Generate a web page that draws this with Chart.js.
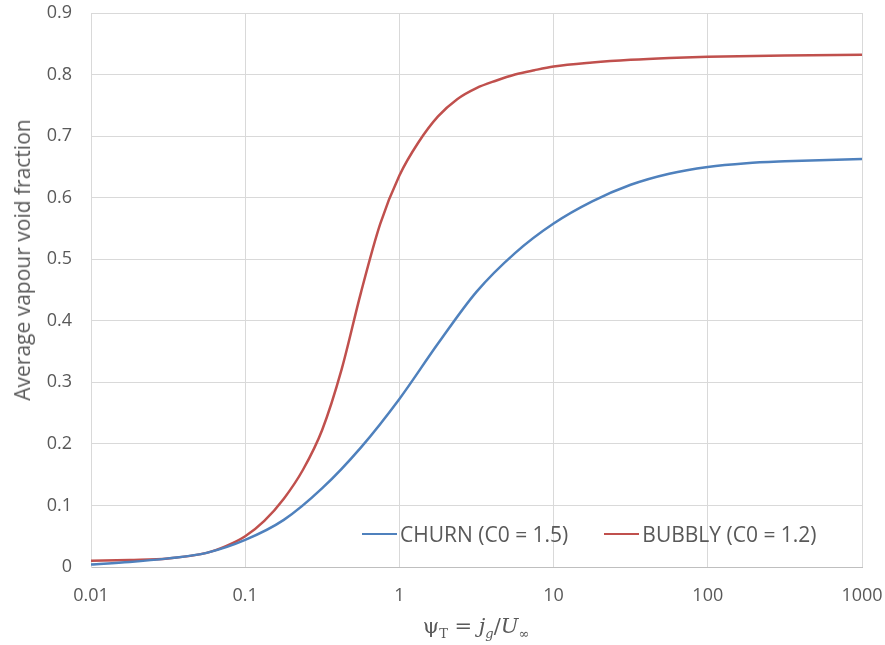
<!DOCTYPE html>
<html>
<head>
<meta charset="utf-8">
<script src="https://cdn.jsdelivr.net/npm/chart.js@4.4.1/dist/chart.umd.min.js"></script>
<style>
  html, body { margin: 0; padding: 0; background: #fff; }
  #wrap { position: relative; width: 885px; height: 645px; }
  #legend {
    position: absolute; left: 362px; top: 520px; line-height: 28px;
    font: 21px "Open Sans", sans-serif; color: #595959;
    display: flex; align-items: center; white-space: nowrap;
  }
  #legend .item { display: flex; align-items: center; }
  #legend .sw { width: 35px; height: 0; border-top: 2.5px solid; margin-right: 3px; }
  #ytitle {
    position: absolute; left: 22px; top: 260px;
    transform: translate(-50%, -50%) rotate(-90deg);
    font: 21px "Open Sans", sans-serif; color: #595959; white-space: nowrap;
  }
  #xtitle {
    position: absolute; left: 476px; top: 614px; transform: translateX(-50%);
    font: 21px "DejaVu Serif", serif; color: #595959; white-space: nowrap;
  }
  #xtitle sub { font-size: 13px; }
</style>
</head>
<body>
<div id="wrap">
  <canvas id="chartVoid" width="885" height="645"></canvas>
  <div id="legend"></div>
  <div id="ytitle">Average vapour void fraction</div>
  <div id="xtitle">ψ<sub>T</sub> = <i>j<sub>g</sub></i>/<i>U</i><sub>∞</sub></div>
</div>
<script>
// ── data ──────────────────────────────────────────────────
// churn regime (C0 = 1.5)
const psiChurn = [0.01, 0.0178, 0.0316, 0.0562, 0.1, 0.178, 0.316, 0.562, 1, 1.78,
                  3.16, 5.62, 10, 17.8, 31.6, 56.2, 100, 178, 316, 1000];
const churn    = [0.004, 0.008, 0.014, 0.023, 0.044, 0.0765, 0.128, 0.194, 0.273, 0.363,
                  0.447, 0.510, 0.558, 0.594, 0.621, 0.639, 0.650, 0.656, 0.659, 0.663];
// bubbly regime (C0 = 1.2), denser around the steep part
const psiBubbly = [0.01, 0.0178, 0.0316, 0.0562, 0.075, 0.1, 0.133, 0.178, 0.237, 0.316,
                   0.422, 0.562, 0.75, 1, 1.33, 1.78, 2.37, 3.16, 4.22, 5.62,
                   7.5, 10, 17.8, 31.6, 56.2, 100, 316, 1000];
const bubbly    = [0.010, 0.0115, 0.014, 0.023, 0.034, 0.050, 0.075, 0.111, 0.158, 0.223,
                   0.321, 0.445, 0.557, 0.636, 0.690, 0.732, 0.760, 0.778, 0.790, 0.800,
                   0.807, 0.813, 0.8195, 0.824, 0.827, 0.829, 0.831, 0.832];
const seriesNames = ['CHURN (C0 = 1.5)', 'BUBBLY (C0 = 1.2)'];
const xTicks = [0.01, 0.1, 1, 10, 100, 1000];
const yTicks = [0, 0.1, 0.2, 0.3, 0.4, 0.5, 0.6, 0.7, 0.8, 0.9];

const COLORS = { churn: '#4F81BD', bubbly: '#C0504D', text: '#595959', grid: '#d9d9d9' };
const FONT = { family: '"Open Sans", sans-serif', size: 18 };

const toPoints = (xs, ys) => xs.map((x, i) => ({ x, y: ys[i] }));

const lineStyle = color => ({
  borderColor: color,
  backgroundColor: color,
  borderWidth: 2.5,
  pointRadius: 0,
  cubicInterpolationMode: 'monotone',
  fill: false,
});

// drop the label overflow padding so layout.padding alone places the plot
const noOverflow = axis => {
  axis.paddingTop = 0; axis.paddingBottom = 0;
  axis.paddingLeft = 0; axis.paddingRight = 0;
};

new Chart(document.getElementById('chartVoid'), {
  type: 'line',
  data: {
    datasets: [
      { label: seriesNames[0], data: toPoints(psiChurn, churn),   ...lineStyle(COLORS.churn) },
      { label: seriesNames[1], data: toPoints(psiBubbly, bubbly), ...lineStyle(COLORS.bubbly) },
    ],
  },
  options: {
    responsive: false,
    animation: false,
    devicePixelRatio: 1,
    layout: { padding: { top: 13, right: 23, bottom: 0, left: 0 } },
    plugins: { legend: { display: false }, tooltip: { enabled: false } },
    scales: {
      x: {
        type: 'logarithmic',
        min: 0.01, max: 1000,
        afterBuildTicks: axis => { axis.ticks = xTicks.map(v => ({ value: v })); },
        afterFit: axis => { axis.height = 78; noOverflow(axis); },
        ticks: {
          color: COLORS.text, font: FONT, padding: 18, maxRotation: 0,
          callback: v => String(v),
        },
        grid: { color: COLORS.grid, drawTicks: false },
        border: { color: '#bfbfbf' },
      },
      y: {
        min: 0, max: 0.9,
        afterBuildTicks: axis => { axis.ticks = yTicks.map(v => ({ value: v })); },
        afterFit: axis => { axis.width = 91; noOverflow(axis); },
        ticks: {
          color: COLORS.text, font: FONT, padding: 19,
          callback: v => v === 0 ? '0' : v.toFixed(1),
        },
        grid: { color: COLORS.grid, drawTicks: false },
        border: { color: COLORS.grid },
      },
    },
  },
});

// legend sits inside the plot, like the original
const legend = document.getElementById('legend');
[[seriesNames[0], COLORS.churn], [seriesNames[1], COLORS.bubbly]].forEach(([name, color], i) => {
  const item = document.createElement('div');
  item.className = 'item';
  if (i > 0) item.style.marginLeft = '36px';
  item.innerHTML = `<span class="sw" style="border-color:${color}"></span><span>${name}</span>`;
  legend.appendChild(item);
});
</script>
</body>
</html>
